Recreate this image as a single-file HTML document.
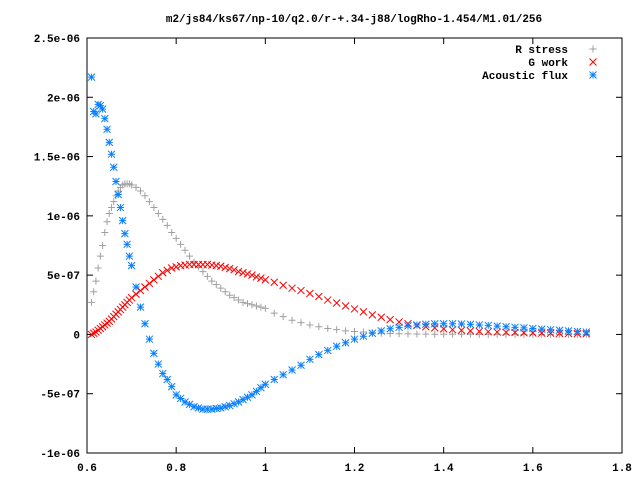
<!DOCTYPE html>
<html><head><meta charset="utf-8"><style>
body{margin:0;background:#fff;}
svg{display:block;font-family:"Liberation Mono","DejaVu Sans Mono",monospace;font-size:11px;font-weight:bold;}
</style></head><body>
<svg id="chart" width="640" height="480" xmlns="http://www.w3.org/2000/svg">
<text x="354" y="22" text-anchor="middle">m2/js84/ks67/np-10/q2.0/r-+.34-j88/logRho-1.454/M1.01/256</text>
<g id="axes"></g>
<g id="marks"></g>
<g id="legend"></g>
<rect x="87" y="38" width="535" height="415" fill="none" stroke="#000" stroke-width="1"/>
</svg>
<script>
const xs = [0.61,0.615,0.62,0.625,0.63,0.635,0.64,0.645,0.65,0.655,0.66,0.665,0.67,0.675,0.68,0.685,0.69,0.695,0.70,
0.71,0.72,0.73,0.74,0.75,0.76,0.77,0.78,0.79,0.80,0.81,0.82,0.83,0.84,0.85,0.86,0.87,0.88,0.89,0.90,0.91,0.92,0.93,0.94,0.95,0.96,0.97,0.98,0.99,1.00,
1.02,1.04,1.06,1.08,1.10,1.12,1.14,1.16,1.18,1.20,1.22,1.24,1.26,1.28,1.30,1.32,1.34,1.36,1.38,1.40,1.42,1.44,1.46,1.48,1.50,1.52,1.54,1.56,1.58,1.60,1.62,1.64,1.66,1.68,1.70,1.72];
const rStress = [0.27,0.36,0.45,0.56,0.66,0.75,0.86,0.95,1.02,1.07,1.12,1.17,1.21,1.24,1.26,1.27,1.27,1.27,1.26,
1.24,1.21,1.17,1.12,1.07,1.02,0.97,0.92,0.86,0.81,0.76,0.71,0.66,0.61,0.57,0.53,0.49,0.45,0.42,0.39,0.36,0.33,0.31,0.29,0.27,0.26,0.25,0.24,0.23,0.22,
0.18,0.15,0.12,0.10,0.08,0.065,0.05,0.04,0.03,0.025,0.02,0.015,0.01,0.008,0.006,0.005,0.004,0.003,0.002,0.002,0.001,0.001,0.001,0,0,0,0,0,0,0,0,0,0,0,0,0];
const gWork = [0.0,0.01,0.02,0.035,0.05,0.065,0.08,0.095,0.11,0.13,0.15,0.17,0.19,0.21,0.23,0.25,0.27,0.29,0.31,
0.34,0.37,0.40,0.43,0.46,0.49,0.52,0.54,0.56,0.57,0.58,0.585,0.59,0.59,0.59,0.59,0.59,0.585,0.58,0.575,0.565,0.555,0.545,0.53,0.52,0.51,0.50,0.485,0.475,0.46,
0.44,0.415,0.39,0.37,0.345,0.32,0.29,0.265,0.24,0.215,0.19,0.165,0.145,0.125,0.105,0.09,0.075,0.065,0.055,0.047,0.04,0.035,0.03,0.026,0.023,0.02,0.018,0.016,0.014,0.012,0.011,0.01,0.009,0.008,0.007,0.006];
const acFlux = [2.17,1.88,1.86,1.94,1.93,1.90,1.82,1.73,1.62,1.52,1.41,1.29,1.18,1.07,0.96,0.85,0.76,0.66,0.58,
0.40,0.23,0.09,-0.04,-0.16,-0.25,-0.33,-0.38,-0.44,-0.51,-0.54,-0.57,-0.59,-0.61,-0.62,-0.63,-0.63,-0.63,-0.625,-0.62,-0.61,-0.60,-0.585,-0.57,-0.55,-0.53,-0.51,-0.48,-0.45,-0.42,
-0.38,-0.34,-0.30,-0.26,-0.21,-0.17,-0.135,-0.10,-0.07,-0.04,-0.015,0.01,0.03,0.048,0.06,0.072,0.08,0.086,0.09,0.09,0.09,0.088,0.085,0.08,0.076,0.07,0.065,0.06,0.055,0.05,0.045,0.04,0.035,0.03,0.025,0.02];
const xTicks = [0.6,0.8,1,1.2,1.4,1.6,1.8];
const xTickLabels = ["0.6","0.8","1","1.2","1.4","1.6","1.8"];
const yTicks = [2.5,2,1.5,1,0.5,0,-0.5,-1];
const yTickLabels = ["2.5e-06","2e-06","1.5e-06","1e-06","5e-07","0","-5e-07","-1e-06"];

const L=87,R=622,T=38,B=453;
const X=v=>L+(v-0.6)/1.2*(R-L);
const Y=v=>B-(v+1)/3.5*(B-T);
const NS="http://www.w3.org/2000/svg";
function mk(tag,attrs,parent){const e=document.createElementNS(NS,tag);for(const k in attrs)e.setAttribute(k,attrs[k]);parent.appendChild(e);return e;}
const axes=document.getElementById('axes');
xTicks.forEach((t,i)=>{
  const x=X(t);
  const a=mk('line',{x1:x,x2:x,y1:B,y2:B-6,stroke:'#000'},axes);
  
  
  const b=mk('line',{x1:x,x2:x,y1:T,y2:T+6,stroke:'#000'},axes);
  
  
  const tx=mk('text',{x:x,y:B+18,'text-anchor':'middle'},axes);
  tx.textContent=xTickLabels[i];
  
  
});
yTicks.forEach((t,i)=>{
  const y=Y(t);
  const a=mk('line',{x1:L,x2:L+6,y1:y,y2:y,stroke:'#000'},axes);
  
  
  const b=mk('line',{x1:R,x2:R-6,y1:y,y2:y,stroke:'#000'},axes);
  
  
  const tx=mk('text',{x:L-7,y:y+4,'text-anchor':'end'},axes);
  tx.textContent=yTickLabels[i];
  
  
});
const s=3.5;
function plus(g,x,y,c){mk('path',{d:`M${x-s} ${y}H${x+s}M${x} ${y-s}V${y+s}`,stroke:c,'stroke-width':1,fill:'none'},g);}
function cross(g,x,y,c){mk('path',{d:`M${x-s} ${y-s}L${x+s} ${y+s}M${x-s} ${y+s}L${x+s} ${y-s}`,stroke:c,'stroke-width':1,fill:'none'},g);}
function star(g,x,y,c){plus(g,x,y,c);cross(g,x,y,c);}
const marks=document.getElementById('marks');
const series=[[rStress,'#a0a0a0',plus,'r-stress-series'],[gWork,'#ff0000',cross,'g-work-series'],[acFlux,'#0a80ff',star,'acoustic-flux-series']];
series.forEach(([vals,c,fn,name])=>{
  const g=mk('g',{},marks);
  
  
  vals.forEach((v,i)=>fn(g,X(xs[i]),Y(v),c));
});
const legend=document.getElementById('legend');
const lg=[['R stress','#a0a0a0',plus],['G work','#ff0000',cross],['Acoustic flux','#0a80ff',star]];
lg.forEach(([t,c,fn],i)=>{
  const y=49+i*13;
  const g=mk('g',{},legend);
  
  
  const tx=mk('text',{x:568,y:y+4,'text-anchor':'end'},g);
  tx.textContent=t;
  fn(g,593,y,c);
});
</script>
</body></html>
